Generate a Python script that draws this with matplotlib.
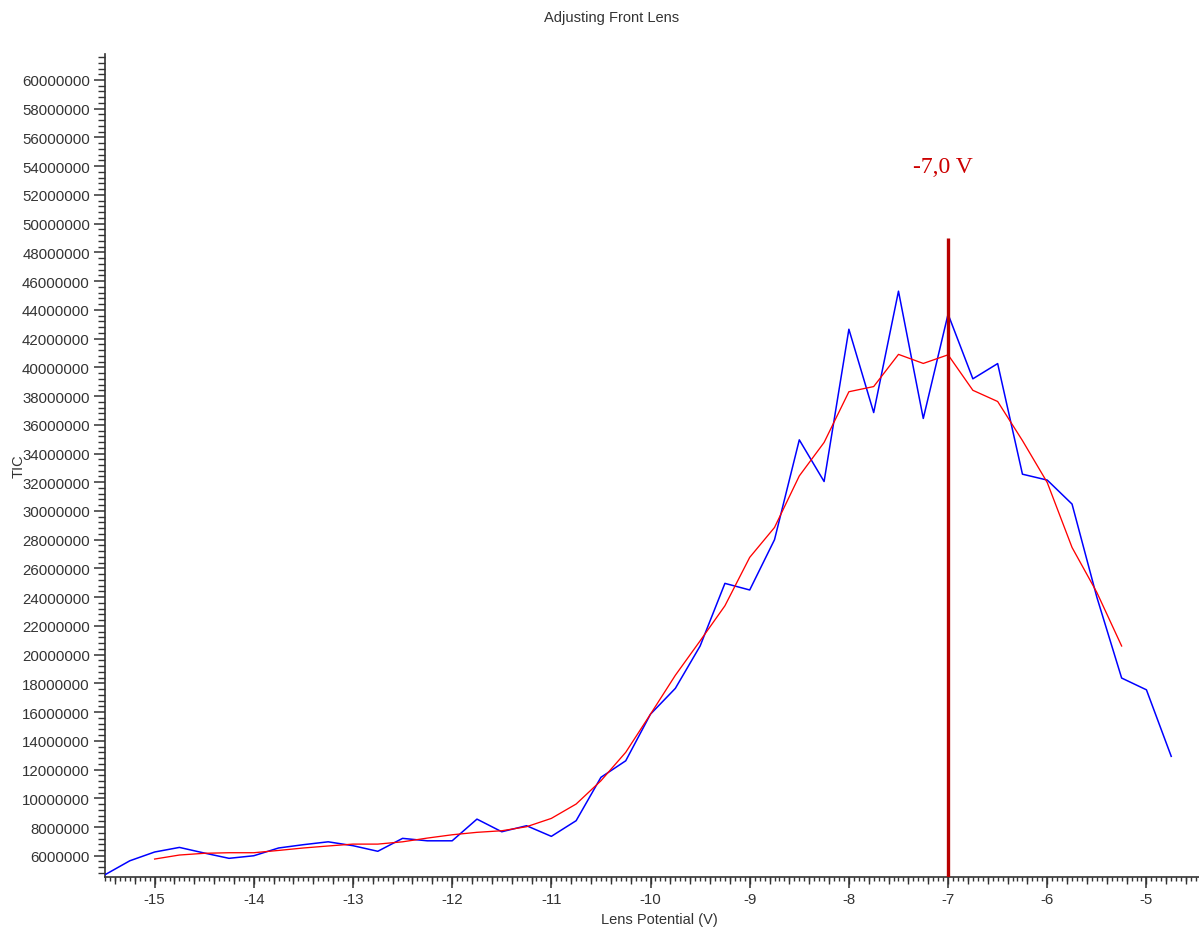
import matplotlib
matplotlib.use("Agg")
import matplotlib.pyplot as plt
from matplotlib.ticker import MultipleLocator, FuncFormatter

# Lens potential scan (V) and total ion current
potential = [-15.5, -15.25, -15.0, -14.75, -14.5, -14.25, -14.0, -13.75, -13.5, -13.25,
             -13.0, -12.75, -12.5, -12.25, -12.0, -11.75, -11.5, -11.25, -11.0, -10.75,
             -10.5, -10.25, -10.0, -9.75, -9.5, -9.25, -9.0, -8.75, -8.5, -8.25,
             -8.0, -7.75, -7.5, -7.25, -7.0, -6.75, -6.5, -6.25, -6.0, -5.75,
             -5.5, -5.25, -5.0, -4.75]
tic_millions = [4.68, 5.65, 6.26, 6.58, 6.19, 5.82, 6.00, 6.54, 6.77, 6.97,
                6.70, 6.31, 7.21, 7.04, 7.04, 8.55, 7.67, 8.09, 7.35, 8.44,
                11.46, 12.61, 15.86, 17.65, 20.60, 24.96, 24.50, 28.00, 34.95, 32.05,
                42.65, 36.85, 45.30, 36.44, 43.70, 39.20, 40.26, 32.56, 32.15, 30.48,
                24.00, 18.37, 17.55, 12.92]

# Smoothed trace
smooth_potential = [-15.0, -14.75, -14.5, -14.25, -14.0, -13.75, -13.5, -13.25, -13.0, -12.75,
                    -12.5, -12.25, -12.0, -11.75, -11.5, -11.25, -11.0, -10.75, -10.5, -10.25,
                    -10.0, -9.75, -9.5, -9.25, -9.0, -8.75, -8.5, -8.25, -8.0, -7.75,
                    -7.5, -7.25, -7.0, -6.75, -6.5, -6.25, -6.0, -5.75, -5.5, -5.25]
smooth_millions = [5.77, 6.05, 6.17, 6.21, 6.21, 6.37, 6.54, 6.68, 6.81, 6.81,
                   6.97, 7.23, 7.46, 7.63, 7.74, 8.02, 8.60, 9.60, 11.22, 13.20,
                   15.86, 18.56, 20.96, 23.40, 26.77, 28.85, 32.44, 34.77, 38.30, 38.66,
                   40.90, 40.27, 40.87, 38.40, 37.62, 34.90, 31.98, 27.46, 24.33, 20.60]

optimum_v = -7.0
optimum_label = "-7,0 V"
marker_top_millions = 49.0

tic = [v * 1e6 for v in tic_millions]
smooth = [v * 1e6 for v in smooth_millions]

plt.rcParams['font.family'] = ['Liberation Sans', 'DejaVu Sans']

fig = plt.figure(figsize=(11.99, 9.29), dpi=100)
ax = fig.add_axes([0.0876, 0.0552, 0.9124, 0.8856])

ax.plot(potential, tic, color='#0000FF', lw=1.1, zorder=3)
ax.plot(smooth_potential, smooth, color='#FF0000', lw=0.95, zorder=4)
ax.plot([optimum_v, optimum_v], [0, marker_top_millions * 1e6], color='#B80000',
        lw=2.4, zorder=5, solid_capstyle='butt')
ax.text(optimum_v - 0.05, 54.0e6, optimum_label, color='#CC0000',
        family=['Liberation Serif', 'DejaVu Serif'], fontsize=17,
        ha='center', va='center')

ax.set_xlim(-15.5, -4.47)
ax.set_ylim(4.54e6, 61.81e6)

for s in ('top', 'right'):
    ax.spines[s].set_visible(False)
for s in ('left', 'bottom'):
    ax.spines[s].set_color('#333333')
    ax.spines[s].set_linewidth(1.2)

ax.xaxis.set_major_locator(MultipleLocator(1))
ax.xaxis.set_minor_locator(MultipleLocator(0.05))
ax.yaxis.set_major_locator(MultipleLocator(2e6))
ax.yaxis.set_minor_locator(MultipleLocator(4e5))
ax.yaxis.set_major_formatter(FuncFormatter(lambda v, p: f"{v:.0f}"))
ax.xaxis.set_major_formatter(FuncFormatter(lambda v, p: f"{v:.0f}"))

ax.tick_params(axis='both', which='major', length=8, width=1.1, color='#333333',
               labelsize=10.8, labelcolor='#333333')
ax.tick_params(axis='x', which='major', pad=3)
ax.tick_params(axis='y', which='major', pad=3)
ax.tick_params(axis='x', which='minor', length=3, width=1.0, color='#333333')
ax.tick_params(axis='y', which='minor', length=5, width=1.0, color='#333333')

# intermediate x ticks every 0.2 V
sec = ax.secondary_xaxis('bottom')
sec.xaxis.set_major_locator(MultipleLocator(0.2))
sec.tick_params(axis='x', which='major', length=5, width=1.0, color='#333333',
                labelbottom=False)
sec.xaxis.set_minor_locator(plt.NullLocator())
sec.spines['bottom'].set_visible(False)

ax.set_xlabel("Lens Potential (V)", fontsize=10.5, color='#333333')
ax.xaxis.set_label_coords(0.5064, -0.043)
ax.set_ylabel("TIC", fontsize=10.5, color='#333333')
ax.yaxis.set_label_coords(-0.0725, 0.5)

fig.text(0.5102, 0.9806, "Adjusting Front Lens", fontsize=10.5, color='#333333',
         ha='center', va='center')

fig.savefig("out.png", dpi=100)
